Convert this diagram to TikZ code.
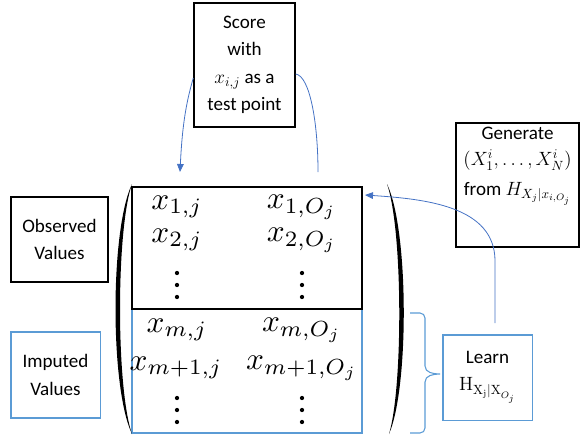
\documentclass[tikz,border=0pt]{standalone}
\usepackage[no-math]{fontspec}
\setmainfont{Carlito}
\usetikzlibrary{arrows.meta,calc}
\definecolor{boxblue}{RGB}{91,155,213}
\definecolor{linkblue}{RGB}{68,114,196}

\begin{document}
\begin{tikzpicture}[x=.75pt,y=-.75pt,
    black box/.style={draw=black, line width=1pt, align=center, font=\fontsize{14.3}{20.5}\selectfont},
    blue box/.style={draw=boxblue, line width=.8pt, align=center, font=\fontsize{14.3}{20.5}\selectfont},
    blue link/.style={draw=linkblue, line width=.6pt},
    link tip/.style={-{Triangle[length=6pt,width=5pt]}},
    entry/.style={scale=2.35}]
  \useasboundingbox (0,0) rectangle (580,436);

  % side boxes
  \node[black box, minimum width=75.8pt, minimum height=93pt] (score) at (244.5,65)
    {Score\\with\\$x_{i,j}$ as a\\test point};
  \node[black box, minimum width=92.3pt, minimum height=93pt] (generate) at (517.5,185) {};
  \node[font=\fontsize{14.3}{19}\selectfont, align=center, anchor=north] (generate text) at (517.5,122)
    {Generate\\[1pt]$(X_1^i,\dots,X_N^i)$\\[3pt]from $H_{X_j|x_{i,O_j}}$};
  \node[black box, minimum width=72.8pt, minimum height=63.8pt] (observed) at (59.5,239.5) {Observed\\Values};
  \node[blue box, minimum width=66.8pt, minimum height=64.5pt] (imputed) at (55.5,375) {Imputed\\Values};
  \node[blue box, minimum width=66.8pt, minimum height=63.8pt] (learn) at (487.5,377.5)
    {Learn\\$\mathrm{H}_{\mathrm{X_j|X}_{O_j}}$};

  % the matrix
  \node[draw=boxblue, line width=.8pt, minimum width=172.5pt, minimum height=93pt] (imp block) at (247,371) {};
  \node[draw=black, line width=1pt, minimum width=172.5pt, minimum height=91.5pt] (obs block) at (247,248) {};

  \node[entry] (x1j)  at (177,207) {$x_{1,j}$};
  \node[entry] (x1o)  at (302,207) {$x_{1,O_j}$};
  \node[entry] (x2j)  at (177,240) {$x_{2,j}$};
  \node[entry] (x2o)  at (302,240) {$x_{2,O_j}$};
  \node[entry] (xmj)  at (177,330) {$x_{m,j}$};
  \node[entry] (xmo)  at (302,330) {$x_{m,O_j}$};
  \node[entry] (xm1j) at (176,368) {$x_{m+1,j}$};
  \node[entry] (xm1o) at (302,368) {$x_{m+1,O_j}$};
  \foreach \cx in {177,302}
    \foreach \cy in {273,285,297,398,410,422}
      \fill (\cx,\cy) circle (1.6pt);

  % parentheses
  \fill (132,184) .. controls (110,230) and (110,388) .. (132,434)
        .. controls (116,388) and (116,230) .. (132,184);
  \fill (387,184) .. controls (409,230) and (409,388) .. (389,434)
        .. controls (403,388) and (403,230) .. (387,184);

  % brace
  \draw[boxblue, line width=.8pt] (410,313) -- (420,313) to[out=0,in=90] (425,318) -- (425,366)
    to[out=-90,in=180] (440,374) to[out=180,in=90] (425,382) -- (425,428)
    to[out=-90,in=0] (420,433) -- (410,433);

  % links
  \coordinate (score in) at (180,172);
  \coordinate (score out) at (318,172);
  \coordinate (learn up) at (495,323);
  \coordinate (obs corner) at (365,195);
  \draw[blue link, link tip] ($(score.west)+(0,13)$) .. controls +(-8,27) and +(2,-42) .. (score in);
  \draw[blue link] ($(score.east)+(0,9)$) .. controls +(14,2) and +(0,-50) .. (score out);
  \draw[blue link, link tip] (learn up) -- ++(0,-62) .. controls +(0,-55) and +(60,4) .. (obs corner);
\end{tikzpicture}
\end{document}
